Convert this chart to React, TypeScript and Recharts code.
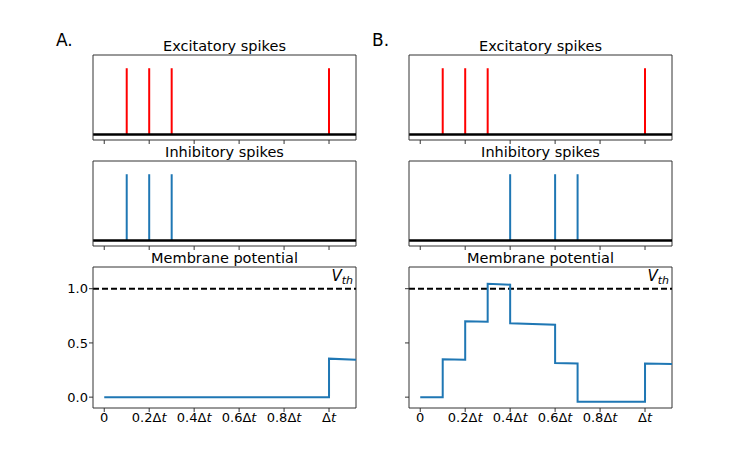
import React from "react";
import { LineChart, Line, XAxis, YAxis, ReferenceLine } from "recharts";

const TIME_TICKS = [0, 0.2, 0.4, 0.6, 0.8, 1.0];
const TIME_LABELS = ["0", "0.2Δt", "0.4Δt", "0.6Δt", "0.8Δt", "Δt"];
const TIME_DOMAIN = [-0.05, 1.12];

const EXC_SPIKES_A = [0.1, 0.2, 0.3, 1.0];
const INH_SPIKES_A = [0.1, 0.2, 0.3];
const EXC_SPIKES_B = [0.1, 0.2, 0.3, 1.0];
const INH_SPIKES_B = [0.4, 0.6, 0.7];

const MEMBRANE_T_A = [0, 1.0, 1.0, 1.12];
const MEMBRANE_V_A = [0, 0, 0.355, 0.345];
const MEMBRANE_T_B = [0, 0.1, 0.1, 0.2, 0.2, 0.3, 0.3, 0.4, 0.4, 0.6, 0.6, 0.7, 0.7, 1.0, 1.0, 1.12];
const MEMBRANE_V_B = [0, 0, 0.35, 0.345, 0.7, 0.695, 1.045, 1.037, 0.682, 0.667, 0.315, 0.31, -0.043, -0.043, 0.31, 0.305];

const V_TICKS = [0, 0.5, 1.0];
const V_THRESHOLD = 1.0;

const FONT = "'DejaVu Sans', sans-serif";
const SPINE = "#333";
const BLUE = "#1f77b4";

const COL_X = [93, 409];
const PLOT_W = 263;

const TimeTick = (props: any) => {
  const { x, y, payload, show } = props;
  if (!show) return null;
  const label = TIME_LABELS[TIME_TICKS.indexOf(payload.value)] ?? "";
  const italicT = label.endsWith("t");
  const head = italicT ? label.slice(0, -1) : label;
  return (
    <text x={x} y={y} dy="0.71em" textAnchor="middle" fontFamily={FONT} fontSize={13} fill="#000">
      {head}
      {italicT && <tspan fontStyle="italic">t</tspan>}
    </text>
  );
};

const VthLabel = (props: any) => {
  const { viewBox } = props;
  if (!viewBox) return null;
  return (
    <text
      x={viewBox.x + viewBox.width - 3}
      y={viewBox.y - 8}
      textAnchor="end"
      fontFamily={FONT}
      fontSize={15}
      fontStyle="italic"
      fill="#000"
    >
      V
      <tspan fontSize={11} dy={3}>th</tspan>
    </text>
  );
};

// top and right spines, drawn at the domain edges
function spines(yDomain: number[]) {
  return [
    <ReferenceLine key="spine-top" y={yDomain[1]} stroke={SPINE} strokeWidth={1} />,
    <ReferenceLine key="spine-right" x={TIME_DOMAIN[1]} stroke={SPINE} strokeWidth={1} />,
  ];
}

function SpikePanel({ left, top, spikes, color, title }: { left: number; top: number; spikes: number[]; color: string; title: string }) {
  const h = 85;
  const data = spikes.map((t) => ({ t, v: 1 }));
  const yDomain = [-0.085, 1.2];
  return (
    <>
      <div style={{ position: "absolute", left, top: top - 17, width: PLOT_W, textAlign: "center", fontFamily: FONT, fontSize: 14.5, lineHeight: "17px", color: "#000" }}>
        {title}
      </div>
      <div style={{ position: "absolute", left: left - 50, top: top - 2 }}>
        <LineChart width={50 + PLOT_W + 12} height={2 + h + 10} data={data} margin={{ top: 2, right: 12, left: 0, bottom: 0 }}>
          <XAxis
            type="number"
            dataKey="t"
            domain={TIME_DOMAIN}
            ticks={TIME_TICKS}
            allowDataOverflow
            height={10}
            tickSize={4}
            stroke={SPINE}
            tick={<TimeTick show={false} />}
          />
          <YAxis type="number" domain={yDomain} allowDataOverflow width={50} tick={false} tickLine={false} stroke={SPINE} />
          {spines(yDomain)}
          {spikes.map((t) => (
            <ReferenceLine key={t} segment={[{ x: t, y: 0 }, { x: t, y: 1 }]} stroke={color} strokeWidth={2} />
          ))}
          <ReferenceLine y={0} stroke="#000" strokeWidth={2.5} />
        </LineChart>
      </div>
    </>
  );
}

function MembranePanel({ left, top, times, values, showLabels }: { left: number; top: number; times: number[]; values: number[]; showLabels: boolean }) {
  const h = 141;
  const data = times.map((t, i) => ({ t, v: values[i] }));
  const yDomain = [-0.1, 1.2];
  return (
    <>
      <div style={{ position: "absolute", left, top: top - 17, width: PLOT_W, textAlign: "center", fontFamily: FONT, fontSize: 14.5, lineHeight: "17px", color: "#000" }}>
        Membrane potential
      </div>
      <div style={{ position: "absolute", left: left - 50, top: top - 2 }}>
        <LineChart width={50 + PLOT_W + 12} height={2 + h + 30} data={data} margin={{ top: 2, right: 12, left: 0, bottom: 0 }}>
          <XAxis
            type="number"
            dataKey="t"
            domain={TIME_DOMAIN}
            ticks={TIME_TICKS}
            allowDataOverflow
            height={30}
            tickSize={4}
            tickMargin={1}
            stroke={SPINE}
            interval={0}
            tick={<TimeTick show={true} />}
          />
          <YAxis
            type="number"
            domain={yDomain}
            ticks={V_TICKS}
            allowDataOverflow
            width={50}
            tickSize={4}
            tickMargin={1}
            stroke={SPINE}
            interval={0}
            tick={{ fill: "#000", fontFamily: FONT, fontSize: 13 }}
            tickFormatter={(v: number) => (showLabels ? v.toFixed(1) : "")}
          />
          {spines(yDomain)}
          <ReferenceLine y={V_THRESHOLD} stroke="#000" strokeWidth={2} strokeDasharray="6 3" label={<VthLabel />} />
          <Line type="linear" dataKey="v" stroke={BLUE} strokeWidth={2} dot={false} isAnimationActive={false} />
        </LineChart>
      </div>
    </>
  );
}

export default function App() {
  return (
    <div style={{ position: "absolute", left: 0, top: 0, width: 747, height: 467, background: "#fff", overflow: "hidden" }}>
      <div style={{ position: "absolute", left: 56, top: 32, fontFamily: FONT, fontSize: 17, lineHeight: "17px", color: "#000" }}>A.</div>
      <div style={{ position: "absolute", left: 372, top: 32, fontFamily: FONT, fontSize: 17, lineHeight: "17px", color: "#000" }}>B.</div>

      <SpikePanel left={COL_X[0]} top={55} spikes={EXC_SPIKES_A} color="#ff0000" title="Excitatory spikes" />
      <SpikePanel left={COL_X[0]} top={161} spikes={INH_SPIKES_A} color={BLUE} title="Inhibitory spikes" />
      <MembranePanel left={COL_X[0]} top={267} times={MEMBRANE_T_A} values={MEMBRANE_V_A} showLabels={true} />

      <SpikePanel left={COL_X[1]} top={55} spikes={EXC_SPIKES_B} color="#ff0000" title="Excitatory spikes" />
      <SpikePanel left={COL_X[1]} top={161} spikes={INH_SPIKES_B} color={BLUE} title="Inhibitory spikes" />
      <MembranePanel left={COL_X[1]} top={267} times={MEMBRANE_T_B} values={MEMBRANE_V_B} showLabels={false} />
    </div>
  );
}
